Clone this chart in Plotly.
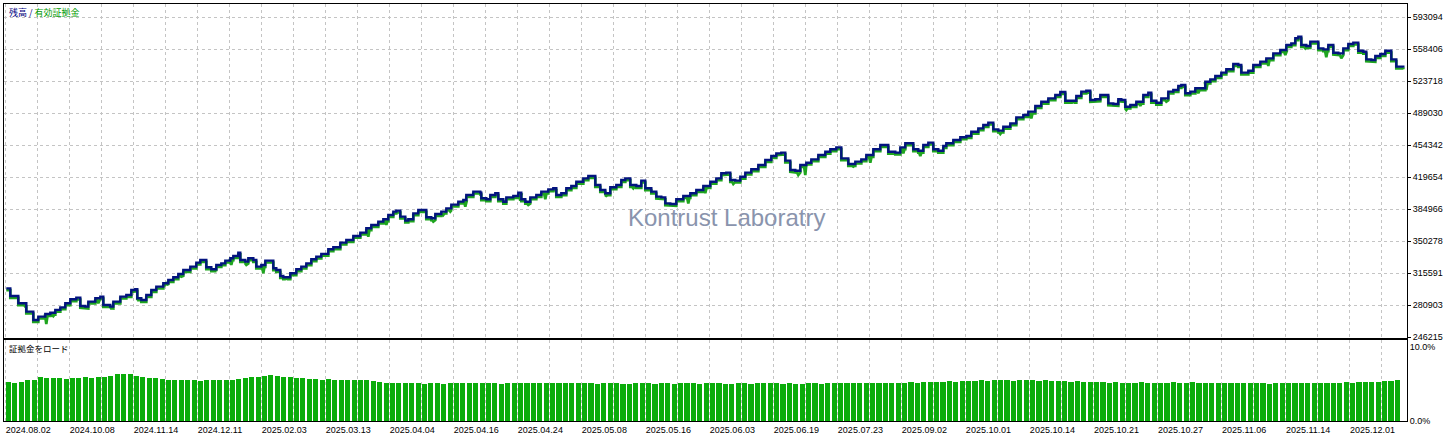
import plotly.graph_objects as go

# ---------------- data ----------------
# Balance curve: time position (test progress) and balance in thousands
bal_t = [1,5,13,21,28,33,40,45,50,55,60,65,71,75,80,83,90,95,98,105,108,115,121,126,130,132,136,141,146,151,
         158,163,168,173,178,185,191,195,201,206,211,216,220,225,228,233,235,240,243,248,251,256,260,268,271,275,278,285,291,296,
         301,306,311,316,323,328,335,341,348,355,361,366,373,378,383,388,391,395,400,403,408,413,421,426,430,436,441,446,453,458,
         461,468,475,476,481,485,490,493,498,501,508,513,516,520,525,531,536,543,548,551,556,561,566,571,578,583,590,595,600,605,
         611,616,620,625,631,636,640,646,651,656,660,665,671,678,685,691,698,705,711,716,721,725,730,735,740,746,753,760,766,771,
         776,780,785,790,795,801,806,813,820,825,831,836,843,850,856,861,868,875,883,890,895,900,908,913,918,923,928,933,938,941,
         948,955,961,966,973,978,983,988,993,998,1005,1011,1018,1023,1030,1036,1043,1050,1055,1060,1071,1076,1081,1085,1090,1095,1103,1108,1113,1116,
         1120,1125,1131,1138,1143,1146,1151,1156,1163,1168,1173,1176,1180,1185,1190,1200,1205,1210,1216,1221,1228,1233,1236,1243,1248,1255,1261,1268,1275,1281,
         1286,1290,1293,1296,1301,1305,1313,1318,1323,1328,1333,1338,1343,1348,1353,1358,1361,1366,1370,1375,1380,1386,1391,1398]
balance_k = [299.3,291.0,283.1,274.0,265.0,268.6,271.5,272.9,275.9,278.7,283.1,287.4,289.2,280.2,279.5,284.9,288.5,290.3,281.3,279.5,
             284.9,290.3,292.1,297.5,298.3,288.5,286.7,292.1,297.5,301.1,
             304.8,308.4,311.3,314.9,319.2,322.8,327.2,330.0,322.1,319.9,324.6,326.4,329.3,331.9,334.4,338.0,330.0,328.2,331.9,330.0,
             322.8,324.6,329.3,321.0,319.2,312.7,311.3,315.6,319.9,322.8,
             326.4,330.8,333.7,336.6,341.6,343.8,348.8,351.7,356.1,359.7,364.4,368.0,371.6,374.1,378.8,382.4,383.5,377.0,372.7,374.1,
             380.6,384.2,376.3,375.2,379.9,382.4,386.0,390.0,393.3,395.1,
             400.5,404.1,403.0,396.9,395.8,400.5,402.3,395.8,393.2,397.9,399.4,403.0,395.8,393.2,397.9,400.5,404.1,406.6,407.7,400.5,
             402.3,407.7,410.2,414.9,418.5,421.1,411.3,405.9,402.3,408.8,
             411.3,416.7,418.5,411.3,410.2,416.0,407.7,404.1,398.7,397.9,391.4,390.7,395.8,399.4,402.3,405.9,410.2,414.9,418.5,424.0,
             424.7,416.7,416.0,420.3,424.7,428.3,433.0,438.4,442.7,445.6,
             446.4,437.7,427.6,426.8,433.0,435.5,439.1,443.8,447.4,450.0,452.1,440.2,434.1,436.6,439.1,443.8,450.0,454.7,447.4,446.4,
             452.1,456.5,450.0,448.5,454.7,457.2,450.0,448.5,453.6,456.5,
             460.1,463.0,464.4,469.1,472.7,476.3,478.9,471.6,470.2,474.5,478.1,484.6,487.2,490.8,496.9,501.6,505.2,508.8,512.1,502.7,
             507.8,512.5,513.5,503.4,504.2,508.8,499.8,499.1,504.2,503.4,
             496.2,498.0,501.6,508.8,511.4,502.7,500.5,505.2,512.5,514.3,518.6,519.7,510.7,512.5,516.1,523.3,525.8,529.4,533.1,536.7,
             542.5,541.4,533.1,535.2,541.4,545.0,548.6,554.0,557.6,563.0,
             564.8,570.3,572.1,563.0,562.0,566.7,559.4,558.3,563.0,554.7,554.0,559.4,564.1,565.6,556.9,555.8,547.5,546.8,551.1,553.3,
             556.9,547.5,539.6,538.8]

# Equity dips (floating drawdowns) below the balance line
dip_t = [20,41,48,65,93,106,115,133,151,161,176,210,216,226,241,258,281,301,316,341,363,381,403,428,438,445,460,
         490,515,523,540,578,601,628,665,683,700,728,760,793,800,848,865,898,915,938,
         961,995,1026,1043,1068,1121,1135,1153,1161,1193,1201,1216,1248,1263,1280,1300,1321,1336,1366,1391]
dip_k = [279.5,260.7,269.3,276.6,283.1,277.7,278.7,286.7,292.1,304.8,312.0,317.4,319.2,324.6,324.6,315.6,310.2,323.5,330.8,
         342.7,355.3,368.0,368.0,371.6,378.8,382.4,387.9,
         396.9,394.3,389.6,395.8,407.7,399.4,407.7,383.5,391.4,402.3,412.4,427.6,422.1,422.1,431.2,435.5,445.6,442.7,440.2,
         454.7,466.6,483.6,496.2,501.6,492.6,496.9,499.1,501.6,510.7,514.3,522.2,532.3,540.3,552.2,559.4,549.7,548.6,540.3,537.8]
# typical floating loss of equity under balance between dips (thousands)
eq_gap_k = 2.0

# Margin load (%) per bar
margin_load = [
    5.3,5.1,5.3,5.5,5.6,5.9,5.8,5.8,5.8,5.7,
    5.8,5.8,5.9,5.8,5.9,6.0,6.1,6.3,6.4,6.3,
    6.1,5.9,5.8,5.8,5.7,5.6,5.6,5.5,5.5,5.5,
    5.4,5.5,5.6,5.5,5.5,5.6,5.7,5.8,5.9,6.0,
    6.1,6.2,6.1,6.0,5.9,5.8,5.8,5.7,5.7,5.6,
    5.7,5.6,5.6,5.5,5.6,5.5,5.5,5.4,5.3,5.2,
    5.1,5.1,5.2,5.1,5.1,5.0,5.1,5.1,5.0,5.1,
    5.1,5.2,5.1,5.1,5.2,5.1,5.1,5.0,5.1,5.1,
    5.2,5.1,5.1,5.2,5.2,5.1,5.2,5.1,5.1,5.2,
    5.1,5.1,5.0,5.1,5.1,5.1,5.0,5.0,5.1,5.1,
    5.1,5.0,5.1,5.1,5.0,5.1,5.1,5.1,5.0,5.1,
    5.1,5.1,5.0,5.0,5.1,5.1,5.0,5.1,5.1,5.1,
    5.1,5.0,5.1,5.0,5.0,5.1,5.1,5.0,5.1,5.1,
    5.1,5.1,5.1,5.2,5.1,5.2,5.2,5.1,5.2,5.2,
    5.2,5.3,5.2,5.3,5.3,5.3,5.3,5.4,5.3,5.4,
    5.4,5.4,5.5,5.4,5.5,5.5,5.5,5.4,5.5,5.5,
    5.5,5.4,5.5,5.4,5.4,5.4,5.3,5.4,5.3,5.3,
    5.3,5.3,5.2,5.3,5.2,5.2,5.2,5.3,5.2,5.2,
    5.2,5.2,5.3,5.2,5.2,5.3,5.2,5.2,5.2,5.1,
    5.1,5.1,5.1,5.2,5.1,5.1,5.1,5.0,5.1,5.1,
    5.1,5.1,5.1,5.2,5.1,5.2,5.2,5.2,5.2,5.3,
    5.2,5.3,5.3,5.3,5.3,5.4,5.4,5.5]

date_labels = ["2024.08.02","2024.10.08","2024.11.14","2024.12.11","2025.02.03","2025.03.13",
               "2025.04.04","2025.04.16","2025.04.24","2025.05.08","2025.05.16","2025.06.03",
               "2025.06.19","2025.07.23","2025.09.02","2025.10.01","2025.10.14","2025.10.21",
               "2025.10.27","2025.11.06","2025.11.14","2025.12.01"]

y_tick_vals = [246215,280903,315591,350278,384966,419654,454342,489030,523718,558406,593094]

# ---------------- derived series ----------------
bal_v = [v * 1000 for v in balance_k]

# equity: sits just under the balance levels, with dips inserted
eq_t, eq_v = [], []
dips = sorted(zip(dip_t, [d * 1000 for d in dip_k]))
di = 0
gap = eq_gap_k * 1000
for i in range(len(bal_t)):
    t0 = bal_t[i]
    t1 = bal_t[i + 1] if i + 1 < len(bal_t) else bal_t[i]
    lvl = bal_v[i] - gap
    eq_t.append(t0); eq_v.append(lvl)
    while di < len(dips) and dips[di][0] < t1:
        td, vd = dips[di]
        if td > t0:
            eq_t += [td - 1.2, td, td + 1.2]
            eq_v += [lvl, vd, lvl]
        di += 1
    eq_t.append(t1); eq_v.append(lvl)

# ---------------- figure ----------------
W, H = 1452, 438
GRID = "#c4c4c4"
FONT = "Liberation Sans, Arial, sans-serif"

grid_top = [32 * k for k in range(44)]
grid_bot = [-0.5 + 5 * k for k in range(44)]
tick_text = [date_labels[k // 2] if k % 2 == 0 and k // 2 < len(date_labels) else "" for k in range(44)]

fig = go.Figure()
fig.add_trace(go.Scatter(x=eq_t, y=eq_v, mode="lines",
                         line=dict(color="#1fa51f", width=2.7),
                         xaxis="x", yaxis="y", hoverinfo="skip"))
fig.add_trace(go.Scatter(x=bal_t, y=bal_v, mode="lines",
                         line=dict(color="#03137f", width=2.4, shape="hv"),
                         xaxis="x", yaxis="y", hoverinfo="skip"))
fig.add_trace(go.Bar(x=list(range(len(margin_load))), y=margin_load,
                     marker=dict(color="#0aac0a", line=dict(width=0)), width=0.8,
                     xaxis="x2", yaxis="y2", hoverinfo="skip"))

xdom = [4 / W, 1407 / W]
axis_common = dict(showline=True, mirror=True, linecolor="black", linewidth=1,
                   zeroline=False, fixedrange=True, automargin=False)

fig.update_layout(
    width=W, height=H,
    margin=dict(l=0, r=0, t=0, b=0, autoexpand=False),
    paper_bgcolor="white", plot_bgcolor="white",
    showlegend=False, hovermode=False, bargap=0,
    xaxis=dict(domain=xdom, range=[-1.3, 1401.7], anchor="y",
               tickmode="array", tickvals=grid_top, showticklabels=False,
               showgrid=True, gridcolor=GRID, griddash="3px,3px", gridwidth=1,
               ticks="", **axis_common),
    yaxis=dict(domain=[1 - 337.5 / H, 1 - 4 / H], range=[246000, 607500], anchor="x",
               side="right", tickmode="array", tickvals=y_tick_vals,
               ticktext=[str(v) for v in y_tick_vals],
               showgrid=True, gridcolor=GRID, griddash="3px,3px", gridwidth=1,
               ticks="outside", ticklen=3, tickcolor="black",
               tickfont=dict(family=FONT, size=9, color="black"), **axis_common),
    xaxis2=dict(domain=xdom, range=[-0.703, 218.5], anchor="y2",
                tickmode="array", tickvals=grid_bot, ticktext=tick_text,
                ticklabelposition="outside right",
                tickfont=dict(family=FONT, size=9, color="black"),
                showgrid=True, gridcolor=GRID, griddash="3px,3px", gridwidth=1,
                ticks="", **axis_common),
    yaxis2=dict(domain=[1 - 421 / H, 1 - 340 / H], range=[0, 10.946], anchor="x2",
                side="right", tickmode="array", tickvals=[0, 10], ticktext=["0.0%", "10.0%"],
                showgrid=False, ticks="",
                tickfont=dict(family=FONT, size=9, color="black"), **axis_common),
)

fig.add_annotation(xref="paper", yref="paper", x=7 / W, y=1 - 13 / H,
                   xanchor="left", yanchor="middle", showarrow=False,
                   text='<span style="color:#000080">残高 / </span><span style="color:#009900">有効証拠金</span>',
                   font=dict(family="Noto Sans CJK JP", size=9))
fig.add_annotation(xref="paper", yref="paper", x=7 / W, y=1 - 348 / H,
                   xanchor="left", yanchor="middle", showarrow=False,
                   text="証拠金をロード",
                   font=dict(family="Noto Sans CJK JP", size=8.5, color="black"))
fig.add_annotation(xref="paper", yref="paper", x=726 / W, y=1 - 218 / H,
                   xanchor="center", yanchor="middle", showarrow=False,
                   text="Kontrust Laboratry",
                   font=dict(family=FONT, size=24, color="#8a94ad"))

fig.write_html("out.html",
               config={"displayModeBar": False, "staticPlot": True},
               post_script="document.body.style.margin='0';document.body.style.overflow='hidden';")
